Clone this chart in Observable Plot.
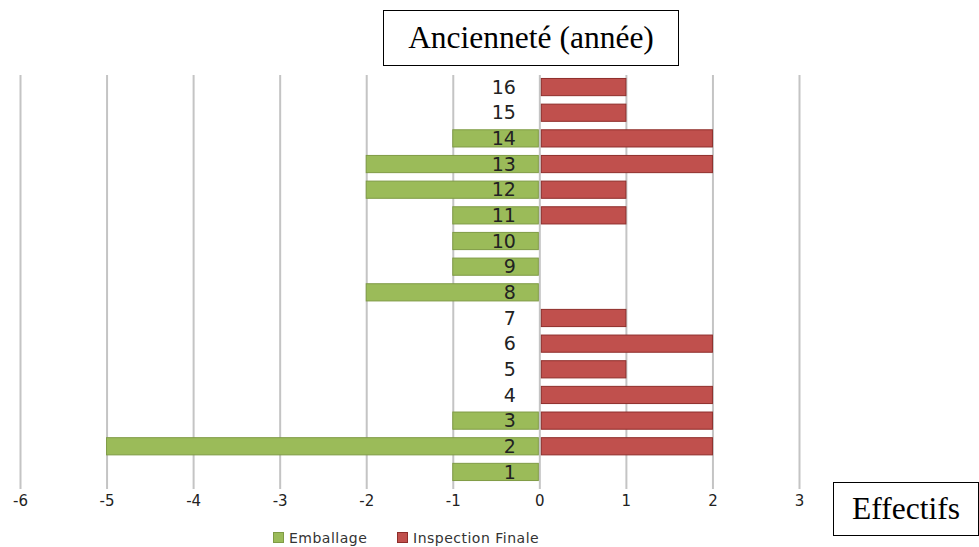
<!DOCTYPE html>
<html>
<head>
<meta charset="utf-8">
<script src="https://cdn.jsdelivr.net/npm/d3@7"></script>
<script src="https://cdn.jsdelivr.net/npm/@observablehq/plot@0.6"></script>
<style>
  html, body { margin: 0; padding: 0; background: #fff; }
  #wrap { position: relative; width: 979px; height: 547px; overflow: hidden; }
  .box { position: absolute; border: 1px solid #000; background: #fff; font-family: "Liberation Serif", "Times New Roman", serif; color: #000; display: flex; align-items: center; justify-content: center; box-sizing: border-box; }
  .leg { position: absolute; top: 529px; font-family: "DejaVu Sans", Verdana, sans-serif; font-size: 14px; letter-spacing: 0.5px; color: #333; white-space: nowrap; line-height: 18px; }
  .leg span.sw { display: inline-block; width: 9px; height: 9px; margin-right: 5px; vertical-align: 0px; }
</style>
</head>
<body>
<div id="wrap">
  <div id="chart"></div>
  <div class="box" style="left:383px;top:10px;width:296px;height:56px;font-size:31.5px;">Ancienneté (année)</div>
  <div class="box" style="left:833px;top:482px;width:146px;height:54px;font-size:31.5px;">Effectifs</div>
</div>
<script>
const categories = ["1","2","3","4","5","6","7","8","9","10","11","12","13","14","15","16"];
const emballage = [-1,-5,-1,0,0,0,0,-2,-1,-1,-1,-2,-2,-1,0,0];
const inspection = [0,2,2,2,1,2,1,0,0,0,1,1,2,2,1,1];
const xTicks = [-6,-5,-4,-3,-2,-1,0,1,2,3];
const seriesNames = ["Emballage","Inspection Finale"];
const colors = ["#9BBB59","#C0504D"];
const strokes = ["#7F9B45","#8E2D2A"];

const rows = [];
categories.forEach((c, i) => {
  if (emballage[i] !== 0) rows.push({cat: c, value: emballage[i], series: seriesNames[0]});
  if (inspection[i] !== 0) rows.push({cat: c, value: inspection[i], series: seriesNames[1]});
});

const chart = Plot.plot({
  width: 979,
  height: 520,
  marginLeft: 20,
  marginRight: 180,
  marginTop: 70,
  marginBottom: 31,
  style: {fontFamily: "'DejaVu Sans', Verdana, sans-serif", background: "#fff"},
  x: {domain: [-6, 3], label: null, axis: null},
  y: {domain: categories.slice().reverse(), padding: 0.33, round: false, axis: null},
  marks: [
    Plot.ruleX(xTicks, {stroke: "#c4c4c4", strokeWidth: 2, strokeOpacity: 1, insetTop: 5}),
    Plot.text(xTicks, {x: d => d, frameAnchor: "bottom", dy: 16, text: d => String(d), fontSize: 15, fill: "#222", letterSpacing: "1px"}),
    Plot.barX(rows.filter(d => d.series === seriesNames[0]), {y: "cat", x1: 0, x2: "value", fill: colors[0], stroke: strokes[0], strokeWidth: 1, insetRight: 1}),
    Plot.barX(rows.filter(d => d.series === seriesNames[1]), {y: "cat", x1: 0, x2: "value", fill: colors[1], stroke: strokes[1], strokeWidth: 1, insetLeft: 2}),
    Plot.text(categories, {x: 0, y: d => d, text: d => d, dx: -24, textAnchor: "end", fontSize: 19, fill: "#222", letterSpacing: "1px"})
  ]
});
document.getElementById("chart").appendChild(chart);

const wrap = document.getElementById("wrap");
const legendLeft = [273, 397];
seriesNames.forEach((s, i) => {
  const d = document.createElement("div");
  d.className = "leg";
  d.style.left = legendLeft[i] + "px";
  d.innerHTML = `<span class="sw" style="background:${colors[i]};border:1px solid ${strokes[i]}"></span>${s}`;
  wrap.appendChild(d);
});
</script>
</body>
</html>
